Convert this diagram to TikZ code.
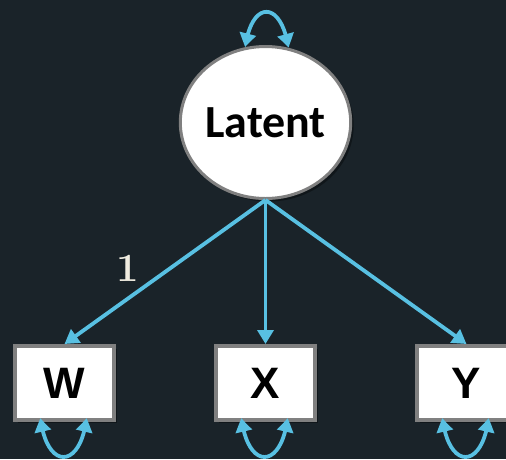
\documentclass[tikz,border=0pt]{standalone}
\usepackage{fontspec}
\usetikzlibrary{arrows.meta,bending,shapes.geometric,shadows}
\newfontfamily\labelfont{Carlito}
\newfontfamily\boxfont{Liberation Sans}
\definecolor{bgdark}{RGB}{26,35,41}
\definecolor{pathblue}{RGB}{88,192,226}
\definecolor{rimgray}{RGB}{128,128,128}
\definecolor{loadcream}{RGB}{240,236,224}
\tikzset{
  latentnode/.style={ellipse, draw=rimgray, line width=3pt, fill=white,
    minimum width=170pt, minimum height=152pt, inner sep=0pt,
    drop shadow={shadow xshift=3pt, shadow yshift=-3pt, opacity=0.35, fill=black},
    font=\labelfont\bfseries\fontsize{46}{46}\selectfont},
  obsnode/.style={rectangle, draw=rimgray, line width=4pt, fill=white,
    minimum width=99pt, minimum height=74pt, inner sep=0pt,
    drop shadow={shadow xshift=3pt, shadow yshift=-3pt, opacity=0.35, fill=black},
    font=\boxfont\bfseries\fontsize{44}{44}\selectfont},
  loadpath/.style={draw=pathblue, line width=3.8pt,
    -{Triangle[length=14pt,width=16pt]}},
  varpath/.style={draw=pathblue, line width=3.8pt,
    {Triangle[length=14pt,width=16pt,bend]}-{Triangle[length=14pt,width=16pt,bend]}},
  loadlabel/.style={text=loadcream, font=\bfseries\fontsize{40}{40}\selectfont, inner sep=0pt}
}
\begin{document}
\begin{tikzpicture}[x=1pt,y=1pt]
  \fill[bgdark] (0,0) rectangle (506,-459);
  \useasboundingbox (0,0) rectangle (506,-459);
  \clip (0,0) rectangle (506,-459);

  % factor and indicators
  \node[latentnode] (lat) at (265.5,-122.5) {Latent};
  \node[obsnode] (w) at (64.5,-383) {W};
  \node[obsnode] (x) at (265.5,-383) {X};
  \node[obsnode] (y) at (466.5,-383) {Y};

  % loadings
  \draw[loadpath] (lat.south) -- (w.north);
  \draw[loadpath] (lat.south) -- (x.north);
  \draw[loadpath] (lat.south) -- (y.north);
  \node[loadlabel] (one) at (128,-268) {1};

  % variances
  \draw[varpath] (lat.105) .. controls +(6,47) and +(-7,48) .. (lat.73);
  \foreach \v in {w,x,y}{
    \draw[varpath] ([xshift=-24pt,yshift=4pt]\v.south)
      .. controls +(6,-52) and +(-6,-52) .. ([xshift=22pt,yshift=4pt]\v.south);
  }
\end{tikzpicture}
\end{document}
